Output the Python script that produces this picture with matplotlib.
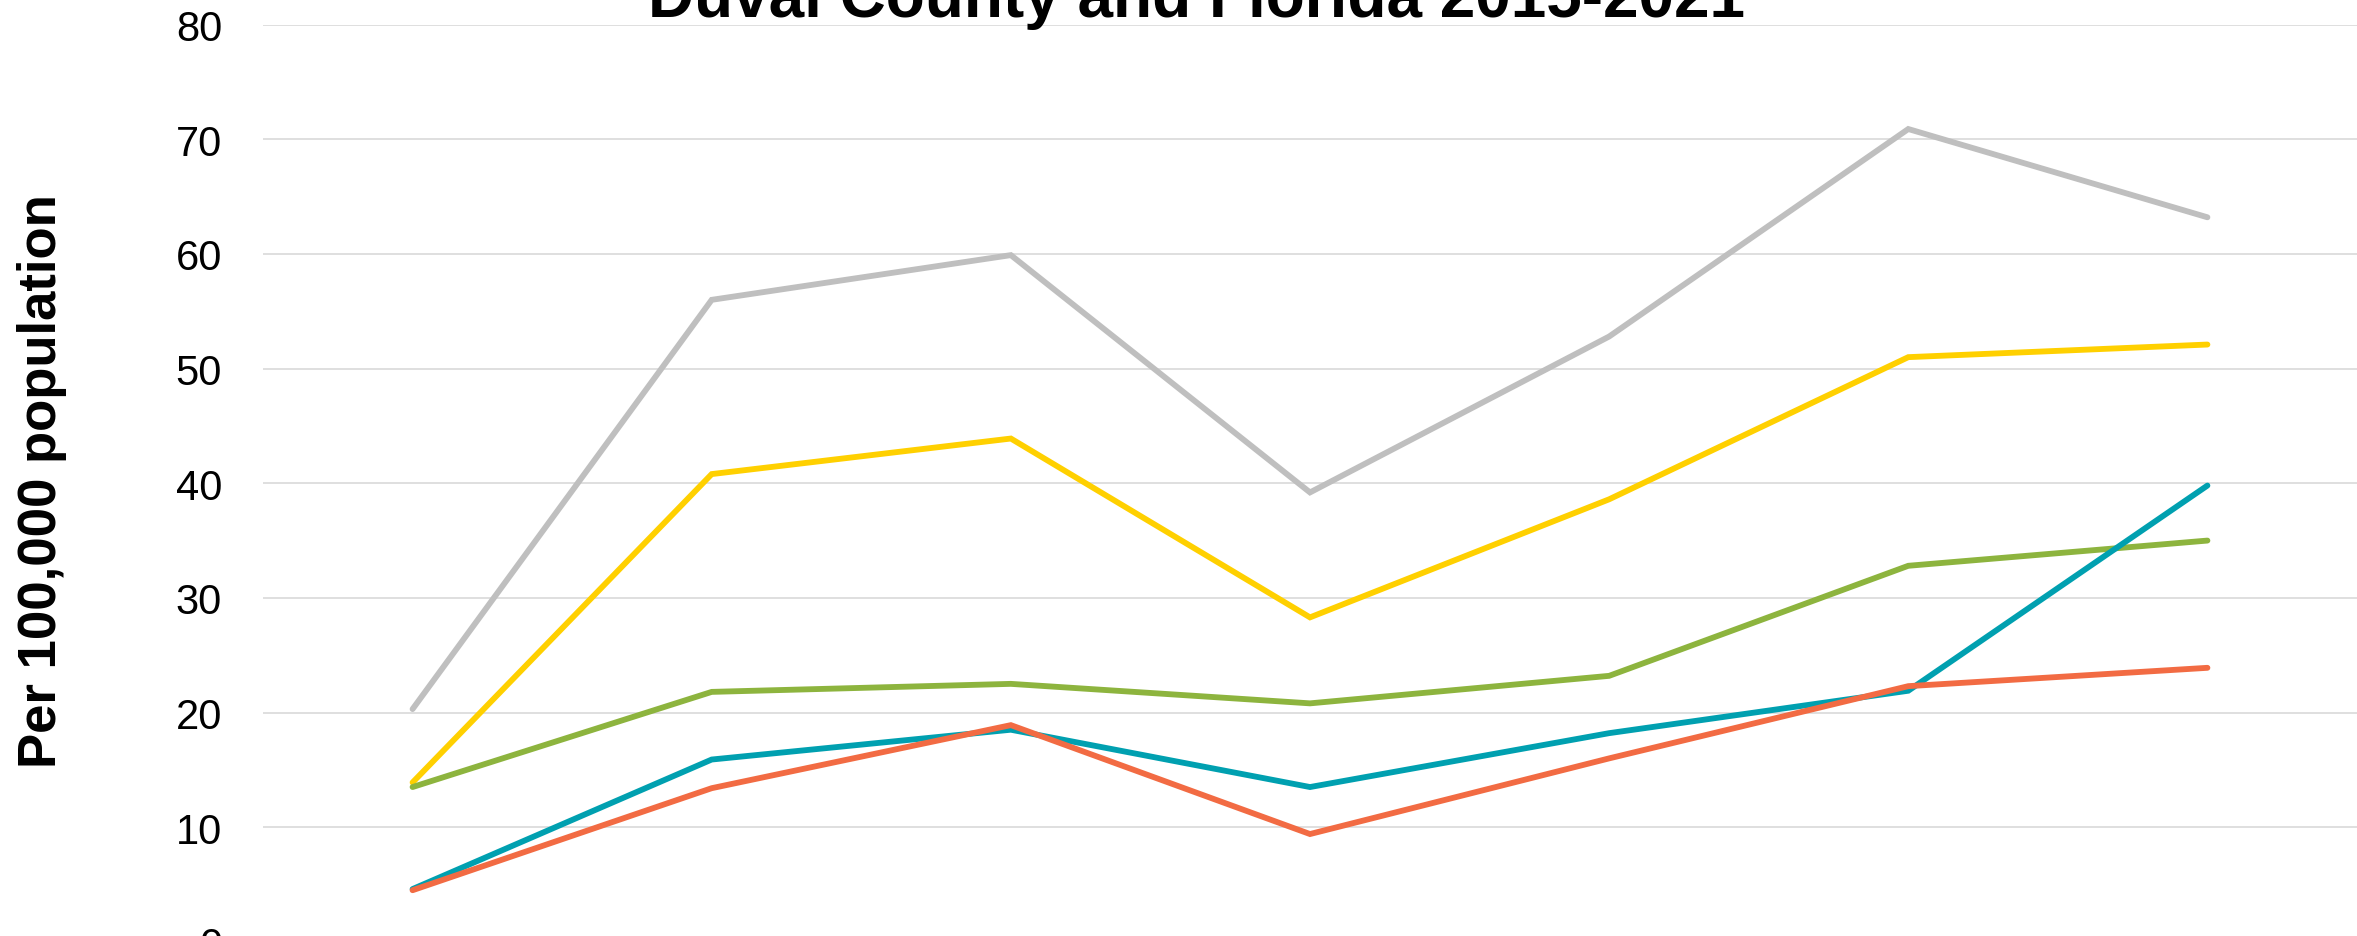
import matplotlib
matplotlib.use("Agg")
import matplotlib.pyplot as plt

# values (per 100,000 population)
years = ["2015", "2016", "2017", "2018", "2019", "2020", "2021"]
gray_vals = [20.3, 56.0, 59.9, 39.2, 52.8, 70.9, 63.2]
yellow_vals = [13.9, 40.8, 43.9, 28.3, 38.6, 51.0, 52.1]
green_vals = [13.5, 21.8, 22.5, 20.8, 23.2, 32.8, 35.0]
teal_vals = [4.6, 15.9, 18.5, 13.5, 18.2, 21.9, 39.8]
orange_vals = [4.5, 13.4, 18.9, 9.4, 16.0, 22.3, 23.9]

series = [
    (gray_vals, "#BFBFBF"),
    (yellow_vals, "#FFD000"),
    (green_vals, "#8DB43E"),
    (teal_vals, "#00A0B0"),
    (orange_vals, "#F26B43"),
]

plt.rcParams["font.family"] = ["Liberation Sans", "DejaVu Sans"]

W, H = 2357, 937
fig = plt.figure(figsize=(W / 100, H / 100), dpi=100)

# plot area: 80 gridline sits near the top edge, 0 just below the bottom edge
top_px, zero_px, left_px = 25.7, 942.8, 263
ax = fig.add_axes([left_px / W, (H - zero_px) / H,
                   1 - left_px / W, (zero_px - top_px) / H])

x = list(range(len(years)))
for vals, color in series:
    ax.plot(x, vals, color=color, lw=4.2, solid_capstyle="round",
            solid_joinstyle="miter", zorder=3)

ax.set_xlim(-0.5, len(years) - 0.5)
ax.set_ylim(0, 80)
ax.set_yticks(range(0, 81, 10))
ax.set_xticks([])
ax.tick_params(axis="y", length=0, pad=29.5, labelsize=30, colors="black")
ax.grid(axis="y", color="#D9D9D9", lw=1.2, zorder=0)
for s in ax.spines.values():
    s.set_visible(False)

fig.text(42 / W, 1 - 481 / H, "Per 100,000 population", rotation=90,
         ha="center", va="center", fontsize=38, fontweight="bold")
fig.text(1197 / W, 1 - 16.7 / H, "Duval County and Florida 2015-2021",
         ha="center", va="baseline", fontsize=46, fontweight="bold")

fig.savefig("out.png", dpi=100)
